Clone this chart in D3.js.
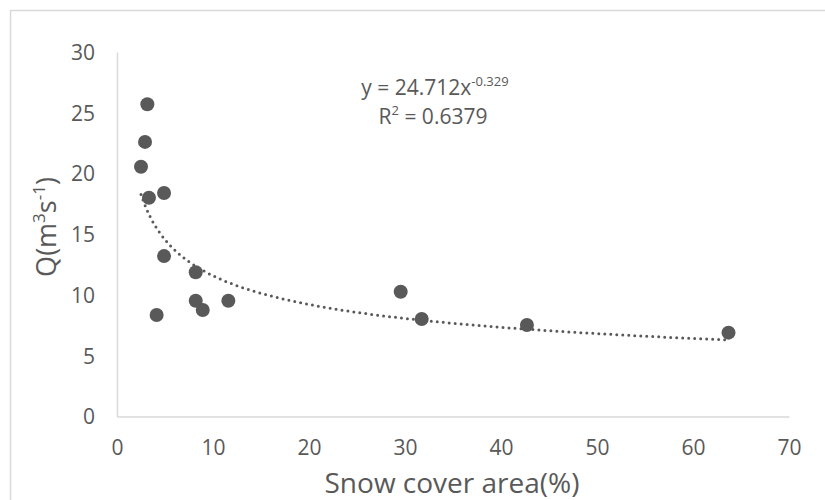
<!DOCTYPE html>
<html>
<head>
<meta charset="utf-8">
<script src="https://cdn.jsdelivr.net/npm/d3@7"></script>
<style>
  html, body { margin: 0; padding: 0; background: #fff; }
  svg { display: block; font-family: "Open Sans", sans-serif; }
</style>
</head>
<body>
<svg id="chart" width="825" height="500"></svg>
<script>
// Snow cover area (%) against discharge Q (m3/s)
const snowCover = [3.16, 2.92, 2.5, 3.33, 4.9, 4.9, 8.2, 8.2, 8.93, 11.6, 4.13, 29.55, 31.74, 42.7, 63.7];
const discharge = [25.7, 22.6, 20.56, 18.0, 18.4, 13.2, 11.87, 9.53, 8.77, 9.53, 8.35, 10.27, 8.02, 7.53, 6.9];
const xTicks = [0, 10, 20, 30, 40, 50, 60, 70];
const yTicks = [0, 5, 10, 15, 20, 25, 30];
// Power-law fit reported on the chart: y = a * x^b
const fitA = 24.712;
const fitB = -0.329;
const fitR2 = "0.6379";

const svg = d3.select("#chart");
const ink = "#595959";
const rule = "#d9d9d9";

// outer chart frame
svg.append("rect")
  .attr("x", 10.5).attr("y", 10.5)
  .attr("width", 830).attr("height", 500)
  .attr("fill", "none").attr("stroke", rule).attr("stroke-width", 1.5);

const x = d3.scaleLinear().domain([0, 70]).range([117, 789]);
const y = d3.scaleLinear().domain([0, 30]).range([416.5, 52]);

// x axis
const xAxis = svg.append("g").attr("transform", `translate(0,${y(0)})`)
  .call(d3.axisBottom(x).tickValues(xTicks).tickSize(0).tickPadding(0).tickFormat(d3.format("d")));
xAxis.select(".domain").attr("stroke", rule).attr("stroke-width", 1.5);
xAxis.selectAll("text")
  .attr("fill", ink).attr("font-size", 21).attr("font-family", "Open Sans")
  .attr("dy", null).attr("y", 38.5);

// y axis
const yAxis = svg.append("g").attr("transform", `translate(${x(0)},0)`)
  .call(d3.axisLeft(y).tickValues(yTicks).tickSize(0).tickPadding(0).tickFormat(d3.format("d")));
yAxis.select(".domain").attr("stroke", rule).attr("stroke-width", 1.5);
yAxis.selectAll("text")
  .attr("fill", ink).attr("font-size", 21).attr("font-family", "Open Sans")
  .attr("x", -22).attr("dy", "0.35em");

// fitted power curve across the observed range
const xMin = d3.min(snowCover), xMax = d3.max(snowCover);
const curve = d3.range(0, 201).map(i => {
  const xv = xMin + (xMax - xMin) * i / 200;
  return [xv, fitA * Math.pow(xv, fitB)];
});
svg.append("path")
  .datum(curve)
  .attr("fill", "none")
  .attr("stroke", ink)
  .attr("stroke-width", 3)
  .attr("stroke-linecap", "round")
  .attr("stroke-dasharray", "0 6")
  .attr("d", d3.line().x(d => x(d[0])).y(d => y(d[1])));

// observations
svg.append("g").selectAll("circle")
  .data(snowCover.map((s, i) => [s, discharge[i]]))
  .join("circle")
  .attr("cx", d => x(d[0]))
  .attr("cy", d => y(d[1]))
  .attr("r", 7)
  .attr("fill", ink);

// equation and R²
const eq = svg.append("text").attr("x", 435).attr("y", 95)
  .attr("text-anchor", "middle").attr("fill", ink).attr("font-size", 21);
eq.append("tspan").text(`y = ${fitA}x`);
eq.append("tspan").attr("font-size", 13).attr("dy", -9).text(fitB);

const r2 = svg.append("text").attr("x", 433).attr("y", 124)
  .attr("text-anchor", "middle").attr("fill", ink).attr("font-size", 21);
r2.append("tspan").text("R");
r2.append("tspan").attr("font-size", 13).attr("dy", -9).text("2");
r2.append("tspan").attr("dy", 9).text(` = ${fitR2}`);

// axis titles
svg.append("text")
  .attr("x", 452).attr("y", 493)
  .attr("text-anchor", "middle").attr("fill", ink).attr("font-size", 28)
  .text("Snow cover area(%)");

const yt = svg.append("text")
  .attr("transform", "translate(56,227) rotate(-90)")
  .attr("text-anchor", "middle").attr("fill", ink).attr("font-size", 27);
yt.append("tspan").text("Q(m");
yt.append("tspan").attr("font-size", 17).attr("dy", -11).text("3");
yt.append("tspan").attr("dy", 11).text("s");
yt.append("tspan").attr("font-size", 17).attr("dy", -11).text("-1");
yt.append("tspan").attr("dy", 11).text(")");
</script>
</body>
</html>
